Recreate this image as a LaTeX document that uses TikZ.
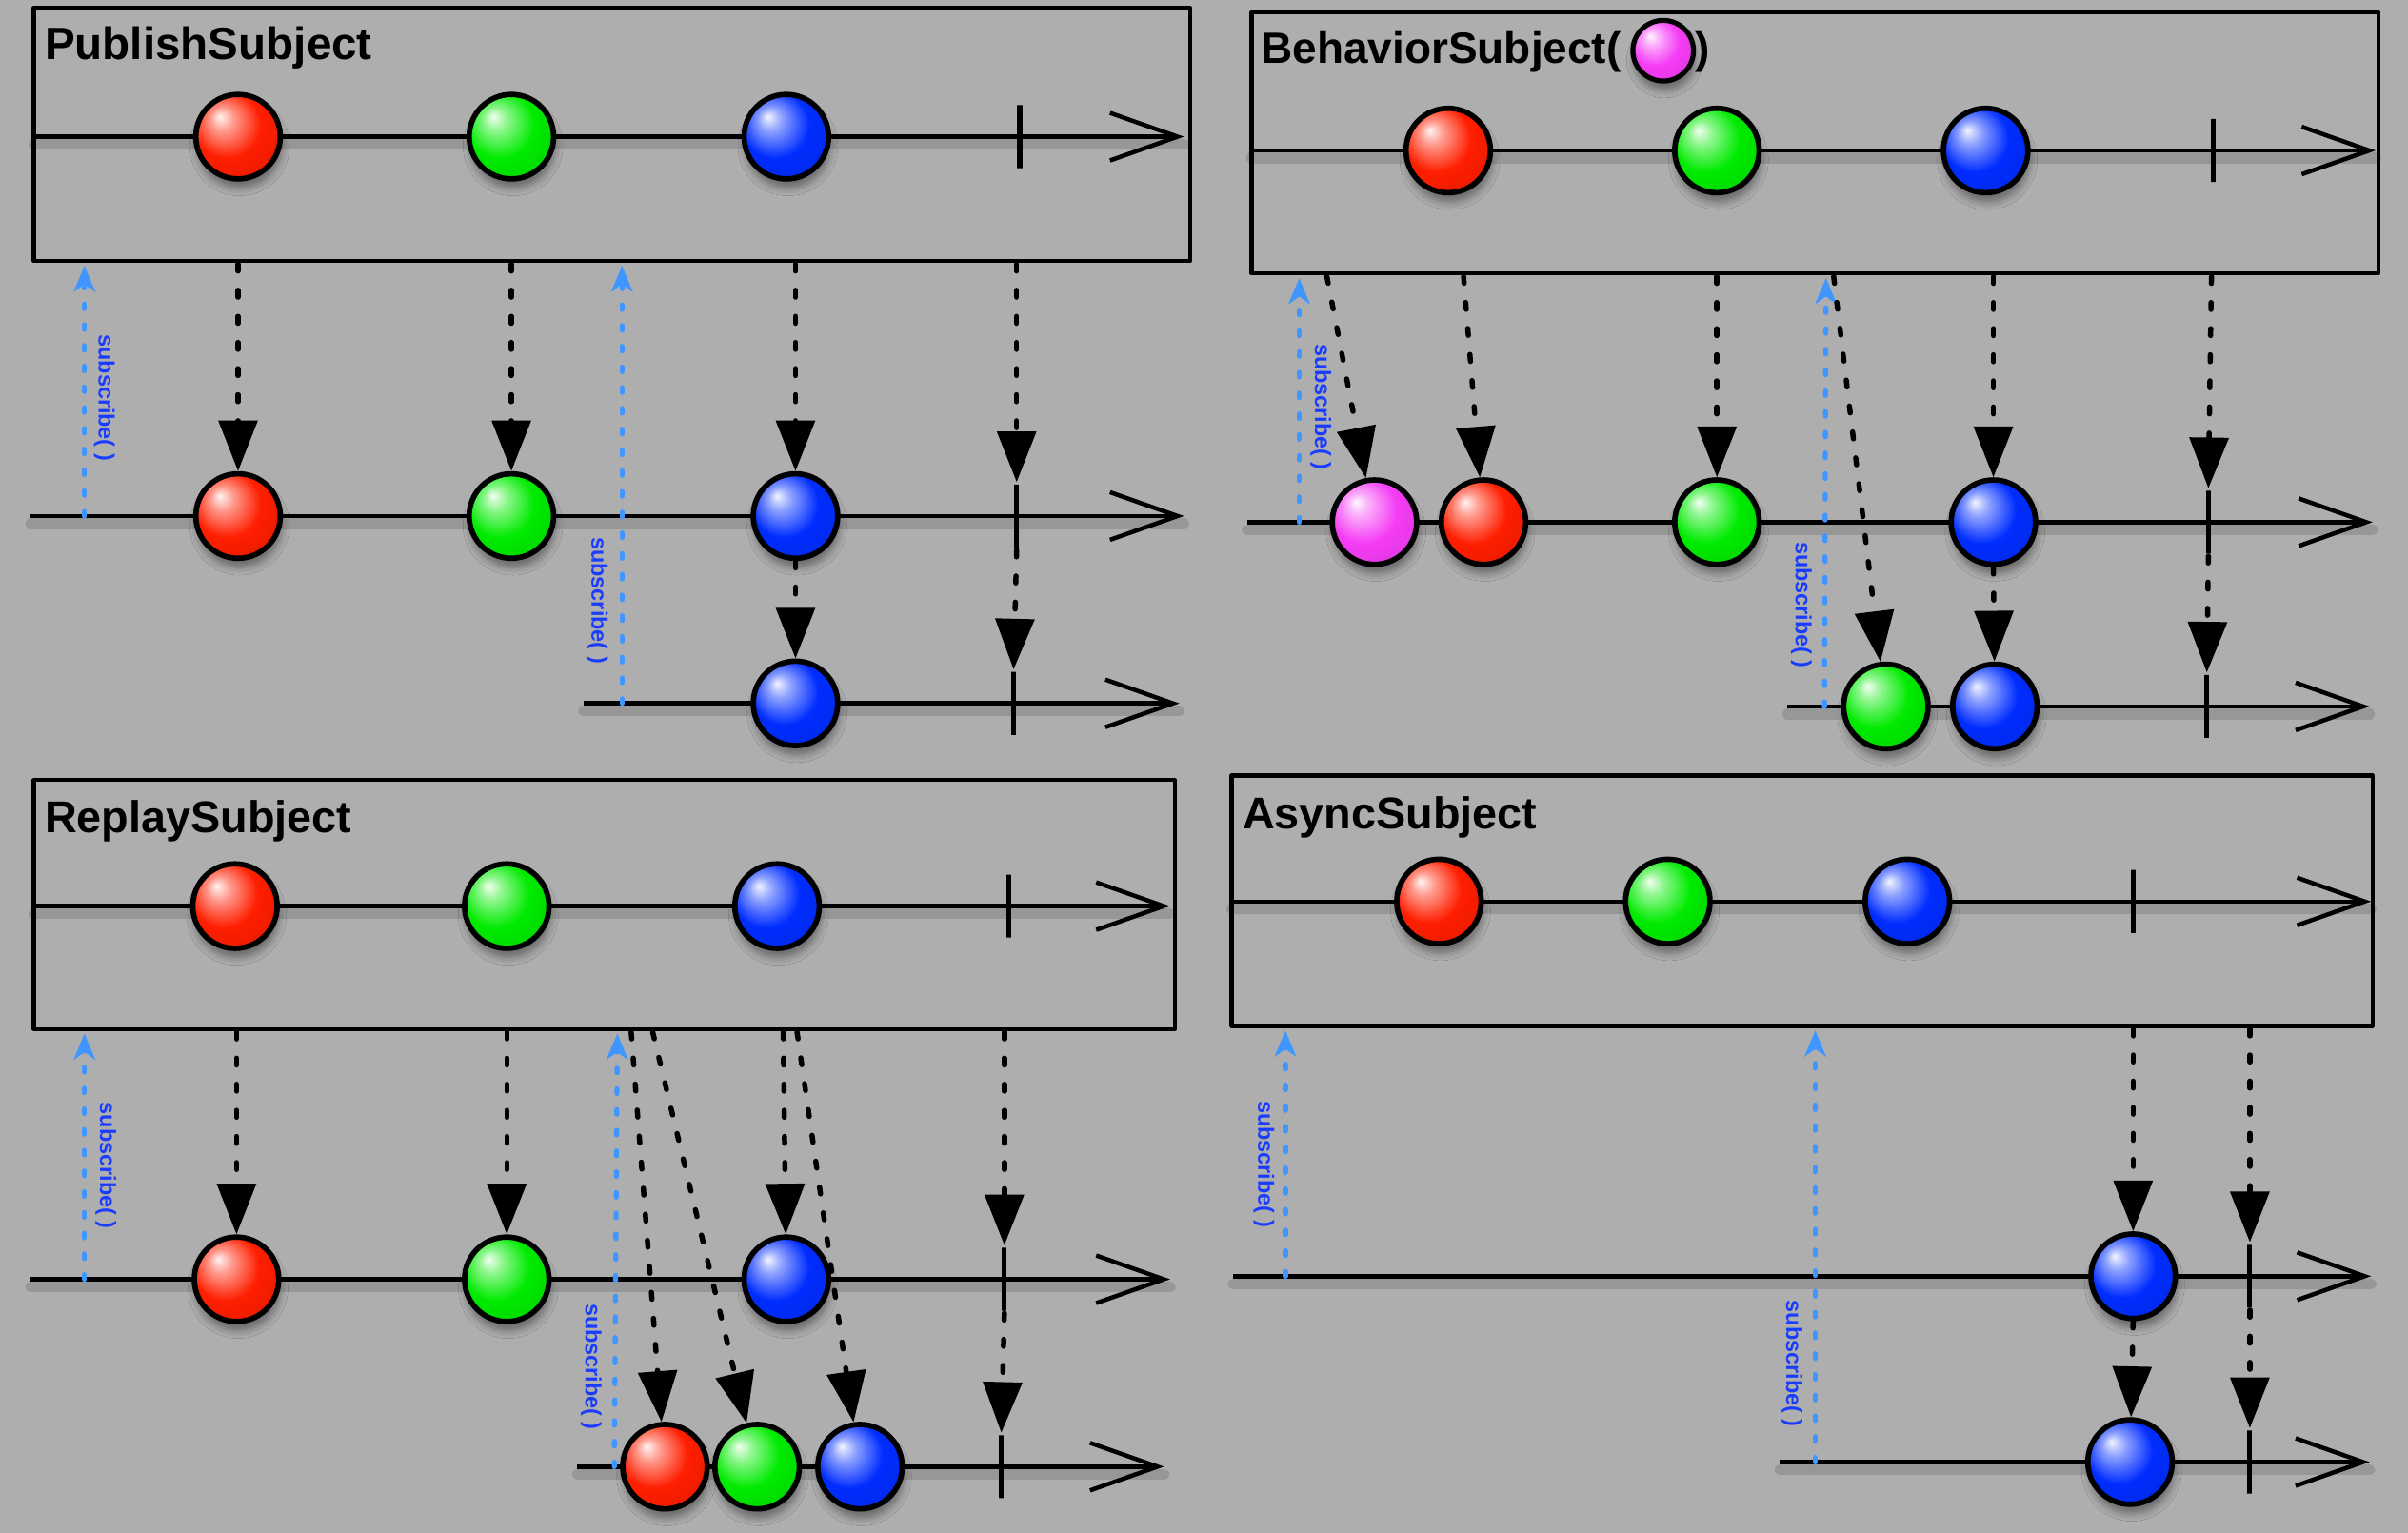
\documentclass[tikz,border=0pt]{standalone}
\usepackage{fontspec}
\setmainfont{Liberation Sans}
\usetikzlibrary{arrows.meta,shadows.blur}

\definecolor{bg}{RGB}{174,174,174}
\definecolor{subline}{RGB}{64,150,255}
\definecolor{subtext}{RGB}{25,60,255}
\definecolor{mred}{RGB}{255,30,0}
\definecolor{mgreen}{RGB}{0,235,0}
\definecolor{mblue}{RGB}{0,45,255}
\definecolor{mpink}{RGB}{245,60,245}
\colorlet{mcol}{mred}

% glossy marble: white highlight at upper left, full colour body, darker rim
\pgfdeclareradialshading[mcol]{marble}{\pgfpoint{-11bp}{12bp}}{%
  color(0bp)=(mcol!5!white);
  color(7bp)=(mcol!45!white);
  color(20bp)=(mcol);
  color(38bp)=(mcol!88!black);
  color(50bp)=(mcol!62!black)}

\tikzset{
  panel/.style={draw=black, line width=2.6pt, line join=round},
  title/.style={anchor=base west, inner sep=0pt, font=\bfseries\fontsize{29}{34}\selectfont},
  timeline/.style={line width=2.8pt, -{Straight Barb[length=44pt,width=31pt]}},
  tlshadow/.style={line width=7pt, black, opacity=0.13, line cap=round, transform canvas={yshift=-5pt}},
  marble/.style={circle, draw=black, line width=3.5pt, minimum size=55pt, inner sep=0pt,
    /utils/exec={\colorlet{mcol}{#1}}, shade, shading=marble,
    blur shadow={shadow xshift=1pt, shadow yshift=-6pt, shadow blur radius=5pt, shadow opacity=40}},
  endtick/.style={rectangle, draw=black, line width=3.2pt, minimum width=0pt, minimum height=41pt, inner sep=0pt},
  emit/.style={line width=3.4pt, line cap=round, dash pattern=on 4.5pt off 12.5pt,
    -{Triangle[length=33pt,width=25pt]}},
  subscr/.style={subline, line width=3.3pt, line cap=round, dash pattern=on 3pt off 10.5pt,
    -{Stealth[length=17pt,width=14pt,inset=5pt]}},
  sublabel/.style={rotate=-90, text=subtext, inner sep=0pt, font=\bfseries\fontsize{14.5}{17}\selectfont},
}

\begin{document}
\begin{tikzpicture}[x=1pt,y=-1pt]
\useasboundingbox (0,0) rectangle (1568,998);
\fill[bg] (0,0) rectangle (1568,998);

% ---------------- PublishSubject ----------------
\draw[panel] (22,5) rectangle (775,170);
\node[title, font=\bfseries\fontsize{29.5}{34}\selectfont] (pubtitle) at (29,39) {PublishSubject};
\coordinate (pub0s) at (22,89);   \coordinate (pub0e) at (771,89);
\coordinate (pub1s) at (20,336);  \coordinate (pub1e) at (771,336);
\coordinate (pub2s) at (380,458); \coordinate (pub2e) at (768,458);
\foreach \a/\b in {pub0s/pub0e, pub1s/pub1e, pub2s/pub2e}{
  \draw[tlshadow] (\a) -- (\b);
  \draw[timeline] (\a) -- (\b);
}
\coordinate (pubu1) at (55,336);  \coordinate (pubu1t) at (55,173);
\coordinate (pubu2) at (405,458); \coordinate (pubu2t) at (405,173);
\draw[subscr] (pubu1) -- (pubu1t);
\draw[subscr] (pubu2) -- (pubu2t);
\node[sublabel] (publ1) at (68,259) {subscribe( )};
\node[sublabel] (publ2) at (389,391) {subscribe( )};

\node[endtick] (pub0x) at (664,89) {};
\node[marble=mred]   (pub0r) at (155,89) {};
\node[marble=mgreen] (pub0g) at (333,89) {};
\node[marble=mblue]  (pub0b) at (512,89) {};
\node[endtick] (pub1x) at (662,336) {};
\node[marble=mred]   (pub1r) at (155,336) {};
\node[marble=mgreen] (pub1g) at (333,336) {};
\node[marble=mblue]  (pub1b) at (518,336) {};
\node[endtick] (pub2x) at (660,458) {};
\node[marble=mblue]  (pub2b) at (518,458) {};

\coordinate (pube1) at (155,172); \coordinate (pube2) at (333,172);
\coordinate (pube3) at (518,172); \coordinate (pube4) at (662,172);
\draw[emit] (pube1) -- (pub1r);
\draw[emit] (pube2) -- (pub1g);
\draw[emit] (pube3) -- (pub1b);
\draw[emit] (pube4) -- (pub1x.north);
\draw[emit] (pub1b.south) -- (pub2b);
\draw[emit] (pub1x.south) -- (pub2x.north);

% ---------------- BehaviorSubject ----------------
\draw[panel] (815,8) rectangle (1549,178);
\node[title, font=\bfseries\fontsize{28.5}{33}\selectfont] (behtitle) at (821,41.5) {BehaviorSubject(};
\node[marble=mpink, minimum size=39.5pt, line width=3.2pt] (behinit) at (1083,33) {};
\node[title, font=\bfseries\fontsize{28.5}{33}\selectfont] (behparen) at (1104,41.5) {)};
\coordinate (beh0s) at (815,98);   \coordinate (beh0e) at (1547,98);
\coordinate (beh1s) at (812,340);  \coordinate (beh1e) at (1545,340);
\coordinate (beh2s) at (1164,460); \coordinate (beh2e) at (1543,460);
\foreach \a/\b in {beh0s/beh0e, beh1s/beh1e, beh2s/beh2e}{
  \draw[tlshadow] (\a) -- (\b);
  \draw[timeline] (\a) -- (\b);
}
\coordinate (behu1) at (846,340);  \coordinate (behu1t) at (846,181);
\coordinate (behu2) at (1188,460); \coordinate (behu2t) at (1189,181);
\draw[subscr] (behu1) -- (behu1t);
\draw[subscr] (behu2) -- (behu2t);
\node[sublabel] (behl1) at (860,265) {subscribe( )};
\node[sublabel] (behl2) at (1173,394) {subscribe( )};

\node[endtick] (beh0x) at (1441,98) {};
\node[marble=mred]   (beh0r) at (943,98) {};
\node[marble=mgreen] (beh0g) at (1118,98) {};
\node[marble=mblue]  (beh0b) at (1293,98) {};
\node[endtick] (beh1x) at (1438,340) {};
\node[marble=mpink]  (beh1p) at (895,340) {};
\node[marble=mred]   (beh1r) at (966,340) {};
\node[marble=mgreen] (beh1g) at (1118,340) {};
\node[marble=mblue]  (beh1b) at (1298,340) {};
\node[endtick] (beh2x) at (1437,460) {};
\node[marble=mgreen] (beh2g) at (1228,460) {};
\node[marble=mblue]  (beh2b) at (1299,460) {};

\coordinate (behe1) at (864,180);  \coordinate (behe2) at (953,180);
\coordinate (behe3) at (1118,180); \coordinate (behe4) at (1298,180);
\coordinate (behe5) at (1440,180); \coordinate (behe6) at (1194,180);
\draw[emit] (behe1) -- (beh1p);
\draw[emit] (behe2) -- (beh1r);
\draw[emit] (behe3) -- (beh1g);
\draw[emit] (behe4) -- (beh1b);
\draw[emit] (behe5) -- (beh1x.north);
\draw[emit] (behe6) -- (beh2g);
\draw[emit] (beh1b.south) -- (beh2b);
\draw[emit] (beh1x.south) -- (beh2x.north);

% ---------------- ReplaySubject ----------------
\draw[panel] (22,508) rectangle (765,670);
\node[title] (reptitle) at (29,542) {ReplaySubject};
\coordinate (rep0s) at (22,590);  \coordinate (rep0e) at (762,590);
\coordinate (rep1s) at (20,833);  \coordinate (rep1e) at (762,833);
\coordinate (rep2s) at (376,955); \coordinate (rep2e) at (758,955);
\foreach \a/\b in {rep0s/rep0e, rep1s/rep1e, rep2s/rep2e}{
  \draw[tlshadow] (\a) -- (\b);
  \draw[timeline] (\a) -- (\b);
}
\coordinate (repu1) at (55,833);  \coordinate (repu1t) at (55,673);
\coordinate (repu2) at (400,955); \coordinate (repu2t) at (402,673);
\draw[subscr] (repu1) -- (repu1t);
\draw[subscr] (repu2) -- (repu2t);
\node[sublabel] (repl1) at (69,759) {subscribe( )};
\node[sublabel] (repl2) at (385,890) {subscribe( )};

\node[endtick] (rep0x) at (657,590) {};
\node[marble=mred]   (rep0r) at (153,590) {};
\node[marble=mgreen] (rep0g) at (330,590) {};
\node[marble=mblue]  (rep0b) at (506,590) {};
\node[endtick] (rep1x) at (654,833) {};
\node[marble=mred]   (rep1r) at (154,833) {};
\node[marble=mgreen] (rep1g) at (330,833) {};
\node[marble=mblue]  (rep1b) at (512,833) {};
\node[endtick] (rep2x) at (652,955) {};
\node[marble=mred]   (rep2r) at (433,955) {};
\node[marble=mgreen] (rep2g) at (493,955) {};
\node[marble=mblue]  (rep2b) at (560,955) {};

\coordinate (repe1) at (154,672); \coordinate (repe2) at (330,672);
\coordinate (repe3) at (510,672); \coordinate (repe4) at (654,672);
\coordinate (repe5) at (411,672); \coordinate (repe6) at (425,672);
\coordinate (repe7) at (519,672);
\draw[emit] (repe1) -- (rep1r);
\draw[emit] (repe2) -- (rep1g);
\draw[emit] (repe3) -- (rep1b);
\draw[emit] (repe4) -- (rep1x.north);
\draw[emit] (repe5) -- (rep2r);
\draw[emit] (repe6) -- (rep2g);
\draw[emit] (repe7) -- (rep2b);
\draw[emit] (rep1x.south) -- (rep2x.north);

% ---------------- AsyncSubject ----------------
\draw[panel] (802,505) rectangle (1545,668);
\node[title] (asytitle) at (809,540) {AsyncSubject};
\coordinate (asy0s) at (802,587);  \coordinate (asy0e) at (1544,587);
\coordinate (asy1s) at (803,831);  \coordinate (asy1e) at (1544,831);
\coordinate (asy2s) at (1159,952); \coordinate (asy2e) at (1543,952);
\foreach \a/\b in {asy0s/asy0e, asy1s/asy1e, asy2s/asy2e}{
  \draw[tlshadow] (\a) -- (\b);
  \draw[timeline] (\a) -- (\b);
}
\coordinate (asyu1) at (837,831);  \coordinate (asyu1t) at (837,671);
\coordinate (asyu2) at (1182,952); \coordinate (asyu2t) at (1182,671);
\draw[subscr] (asyu1) -- (asyu1t);
\draw[subscr] (asyu2) -- (asyu2t);
\node[sublabel] (asyl1) at (823,758) {subscribe( )};
\node[sublabel] (asyl2) at (1167,888) {subscribe( )};

\node[endtick] (asy0x) at (1389,587) {};
\node[marble=mred]   (asy0r) at (937,587) {};
\node[marble=mgreen] (asy0g) at (1086,587) {};
\node[marble=mblue]  (asy0b) at (1242,587) {};
\node[endtick] (asy1x) at (1465,831) {};
\node[marble=mblue]  (asy1b) at (1389,831) {};
\node[endtick] (asy2x) at (1465,952) {};
\node[marble=mblue]  (asy2b) at (1387,952) {};

\coordinate (asye1) at (1389,670); \coordinate (asye2) at (1465,670);
\draw[emit] (asye1) -- (asy1b);
\draw[emit] (asye2) -- (asy1x.north);
\draw[emit] (asy1b.south) -- (asy2b);
\draw[emit] (asy1x.south) -- (asy2x.north);
\end{tikzpicture}
\end{document}
